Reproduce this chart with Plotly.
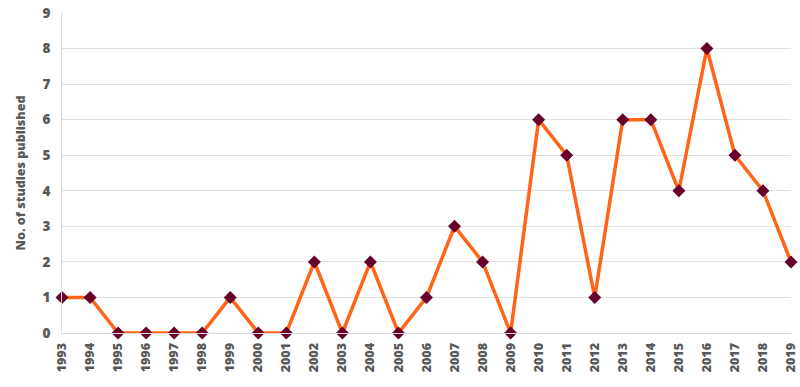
import plotly.graph_objects as go

years = list(range(1993, 2020))
studies = [1, 1, 0, 0, 0, 0, 1, 0, 0, 2, 0, 2, 0, 1, 3, 2, 0, 6, 5, 1, 6, 6, 4, 8, 5, 4, 2]
y_ticks = list(range(0, 10))

fig = go.Figure()
fig.add_trace(go.Scatter(
    x=years, y=studies, mode="lines+markers",
    line=dict(color="#ff6418", width=3.5),
    marker=dict(symbol="diamond", size=10, color="#68002c"),
    cliponaxis=False, showlegend=False, hoverinfo="skip",
))

ff = "'Open Sans', sans-serif"
fig.update_layout(
    width=800, height=387,
    margin=dict(l=62, r=9, t=13, b=54, autoexpand=False),
    paper_bgcolor="white", plot_bgcolor="white",
    font=dict(family=ff, color="#595959"),
    xaxis=dict(
        automargin=False,
        range=[1993, 2019], tickmode="array", tickvals=years,
        ticktext=[str(y) for y in years], tickangle=-90,
        tickfont=dict(size=12.5, family=ff, color="#595959", weight=800),
        showgrid=False, showline=True, linecolor="#d9d9d9", linewidth=1,
        zeroline=False, ticks="outside", ticklen=4, tickcolor="rgba(0,0,0,0)",
    ),
    yaxis=dict(
        automargin=False,
        range=[0, 9], tickmode="array", tickvals=y_ticks,
        tickfont=dict(size=13.5, family=ff, color="#595959", weight=800),
        showgrid=True, gridcolor="#e0e0e0", gridwidth=1,
        showline=True, linecolor="#d9d9d9", linewidth=1,
        zeroline=False, ticks="outside", ticklen=8, tickcolor="rgba(0,0,0,0)",
        title=dict(text="No. of studies published", font=dict(size=12.5, color="#595959", weight=800), standoff=14),
    ),
)
fig.write_html("out.html", config={"displayModeBar": False},
               post_script="document.body.style.margin='0';document.body.style.overflow='hidden';")
